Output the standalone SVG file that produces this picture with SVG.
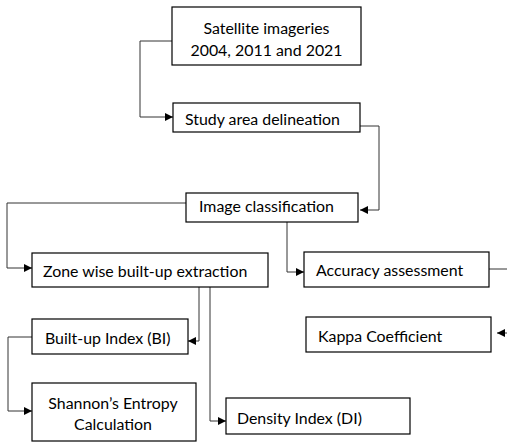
<svg xmlns="http://www.w3.org/2000/svg" width="507" height="442" viewBox="0 0 507 442">
  <defs>
    <marker id="arrow" viewBox="0 0 10 10" refX="10" refY="5" markerWidth="9" markerHeight="8" markerUnits="userSpaceOnUse" orient="auto">
      <path d="M0,0 L10,5 L0,10 z" fill="#000"/>
    </marker>
  </defs>
  <style>
    .box { fill: #fff; stroke: #000; stroke-width: 1.2; }
    .lbl { font-family: Lato, "Open Sans", "Liberation Sans", sans-serif; font-size: 15.9px; fill: #000; dominant-baseline: central; }
    .mid { text-anchor: middle; }
    .wire { fill: none; stroke: #333; stroke-width: 1; }
    .arr { marker-end: url(#arrow); }
  </style>
  <rect width="507" height="442" fill="#fff"/>

  <g id="connectors">
    <path class="wire arr" d="M172,41 H140 V117 H173"/>
    <path class="wire arr" d="M360,126 H379 V210 H360"/>
    <path class="wire arr" d="M186,203 H7 V268 H32"/>
    <path class="wire arr" d="M287,222 V272 H304"/>
    <path class="wire" d="M489,269 H507"/>
    <path class="wire arr" d="M507,333 H497"/>
    <path class="wire arr" d="M199,287 V341 H188"/>
    <path class="wire arr" d="M210,287 V421 H226"/>
    <path class="wire arr" d="M32,337 H8 V411 H32"/>
  </g>

  <g id="satellite">
    <rect class="box" x="172" y="7" width="189" height="58"/>
    <text class="lbl mid" x="266.5" y="27">Satellite imageries</text>
    <text class="lbl mid" x="266.5" y="49">2004, 2011 and 2021</text>
  </g>
  <g id="study-area">
    <rect class="box" x="173" y="103" width="187" height="29"/>
    <text class="lbl" x="185" y="118">Study area delineation</text>
  </g>
  <g id="image-classification">
    <rect class="box" x="186" y="193" width="172" height="29"/>
    <text class="lbl" x="199" y="205">Image classification</text>
  </g>
  <g id="zone-extraction">
    <rect class="box" x="32" y="253" width="236" height="34"/>
    <text class="lbl" x="43" y="270">Zone wise built-up extraction</text>
  </g>
  <g id="accuracy">
    <rect class="box" x="304" y="252" width="185" height="35"/>
    <text class="lbl" x="316" y="269">Accuracy assessment</text>
  </g>
  <g id="built-up-index">
    <rect class="box" x="32" y="319" width="156" height="35"/>
    <text class="lbl" x="45" y="337">Built-up Index (BI)</text>
  </g>
  <g id="kappa">
    <rect class="box" x="306" y="317" width="185" height="35"/>
    <text class="lbl" x="318" y="335">Kappa Coefficient</text>
  </g>
  <g id="shannon">
    <rect class="box" x="32" y="383" width="164" height="58"/>
    <text class="lbl mid" x="113" y="402">Shannon’s Entropy</text>
    <text class="lbl mid" x="113" y="423">Calculation</text>
  </g>
  <g id="density-index">
    <rect class="box" x="226" y="398" width="184" height="36"/>
    <text class="lbl" x="237" y="417">Density Index (DI)</text>
  </g>
</svg>
